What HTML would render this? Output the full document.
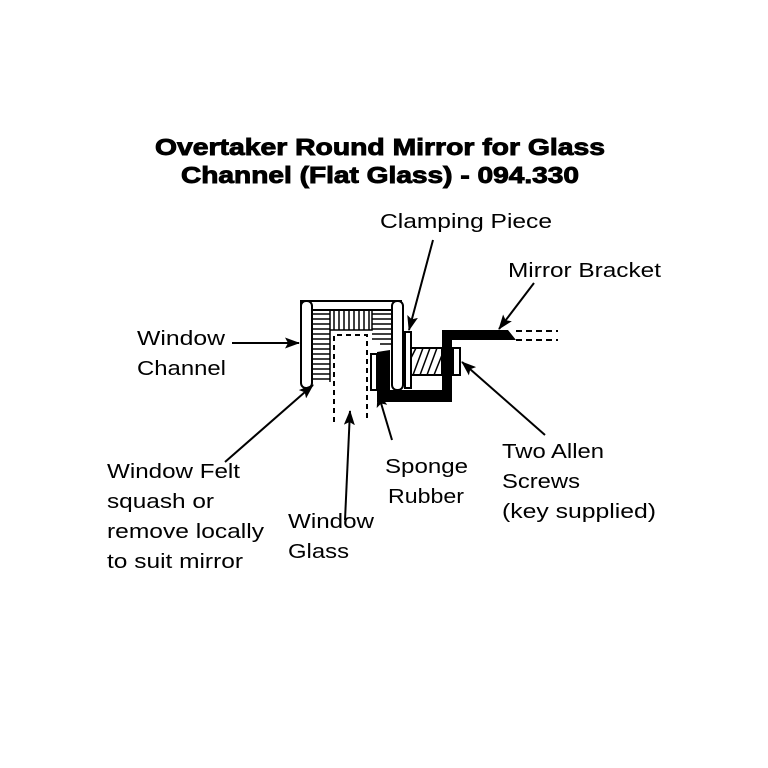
<!DOCTYPE html>
<html><head><style>body{margin:0;background:#fff}svg{display:block}</style></head><body>
<svg width="768" height="768" viewBox="0 0 768 768" xmlns="http://www.w3.org/2000/svg">
<defs><marker id="a" markerWidth="15" markerHeight="11" refX="14" refY="5.5" orient="auto" markerUnits="userSpaceOnUse"><path d="M0,0 L15,5.5 L0,11 L3,5.5 Z" fill="#000"/></marker></defs>
<g font-family="Liberation Sans, sans-serif" fill="#000">
<g font-size="23" font-weight="bold" stroke="#000" stroke-width="0.9">
<text x="155" y="155" textLength="450" lengthAdjust="spacingAndGlyphs">Overtaker Round Mirror  for Glass</text>
<text x="181" y="183" textLength="398" lengthAdjust="spacingAndGlyphs">Channel (Flat Glass) - 094.330</text>
</g>
<g font-size="20">
<text x="380" y="228" textLength="172" lengthAdjust="spacingAndGlyphs">Clamping Piece</text>
<text x="508" y="277" textLength="153" lengthAdjust="spacingAndGlyphs">Mirror Bracket</text>
<text x="137" y="345" textLength="88" lengthAdjust="spacingAndGlyphs">Window</text>
<text x="137" y="375" textLength="89" lengthAdjust="spacingAndGlyphs">Channel</text>
<text x="107" y="478" textLength="133" lengthAdjust="spacingAndGlyphs">Window Felt</text>
<text x="107" y="508" textLength="107" lengthAdjust="spacingAndGlyphs">squash or</text>
<text x="107" y="538" textLength="157" lengthAdjust="spacingAndGlyphs">remove locally</text>
<text x="107" y="568" textLength="136" lengthAdjust="spacingAndGlyphs">to suit mirror</text>
<text x="288" y="528" textLength="86" lengthAdjust="spacingAndGlyphs">Window</text>
<text x="288" y="558" textLength="61" lengthAdjust="spacingAndGlyphs">Glass</text>
<text x="385" y="473" textLength="83" lengthAdjust="spacingAndGlyphs">Sponge</text>
<text x="388" y="503" textLength="76" lengthAdjust="spacingAndGlyphs">Rubber</text>
<text x="502" y="458" textLength="102" lengthAdjust="spacingAndGlyphs">Two Allen</text>
<text x="502" y="488" textLength="78" lengthAdjust="spacingAndGlyphs">Screws</text>
<text x="502" y="518" textLength="154" lengthAdjust="spacingAndGlyphs">(key supplied)</text>
</g></g>
<g stroke="#000" stroke-width="2" fill="none">
<rect x="301" y="301" width="100" height="9" fill="#fff"/>
<rect x="301" y="301" width="11" height="87" rx="5" fill="#fff"/>
<rect x="392" y="301" width="11" height="89" rx="5" fill="#fff"/>
</g>
<g stroke="#000" stroke-width="1.5" fill="none">
<path d="M312,314H330M312,319H330M312,324H330M312,329H330M312,334H330M312,339H330M312,344H330M312,349H330M312,354H330M312,359H330M312,364H330M312,369H330M312,374H330M312,379H330"/>
<path d="M334,310V330M339,310V330M344,310V330M349,310V330M354,310V330M359,310V330M364,310V330M369,310V330"/>
<path d="M372,314H392M372,319H392M372,324H392M372,329H392M372,334H392M372,339H392M380,344H392"/>
<path d="M330,310V382M330,330H372V310"/>
</g>
<g stroke="#000" stroke-width="2" fill="none">
<path d="M334,422V335H367V422" stroke-dasharray="5,4"/>
<rect x="371" y="354" width="6" height="36" fill="#fff"/>
<rect x="405" y="332" width="6" height="56" fill="#fff"/>
<rect x="411" y="348" width="31" height="27" fill="#fff"/>
<rect x="453" y="348" width="7" height="27" fill="#fff"/>
<path d="M416,348l-5,10M423,348l-10,27M430,348l-10,27M437,348l-10,27M442,355l-8,20" stroke-width="1.5"/>
<path d="M516,331H558M516,340H558" stroke-dasharray="6,4"/>
</g>
<path d="M377,352 L390,350 V390 H442 V330 H508 L516,340 H452 V402 H377 Z" fill="#000"/>
<g stroke="#000" stroke-width="2" marker-end="url(#a)">
<line x1="433" y1="240" x2="409" y2="330"/>
<line x1="534" y1="283" x2="499" y2="329"/>
<line x1="232" y1="343" x2="299" y2="343"/>
<line x1="225" y1="462" x2="313" y2="385"/>
<line x1="345" y1="520" x2="350" y2="411"/>
<line x1="392" y1="440" x2="378" y2="393"/>
<line x1="545" y1="435" x2="462" y2="362"/>
</g>
</svg>
</body></html>
